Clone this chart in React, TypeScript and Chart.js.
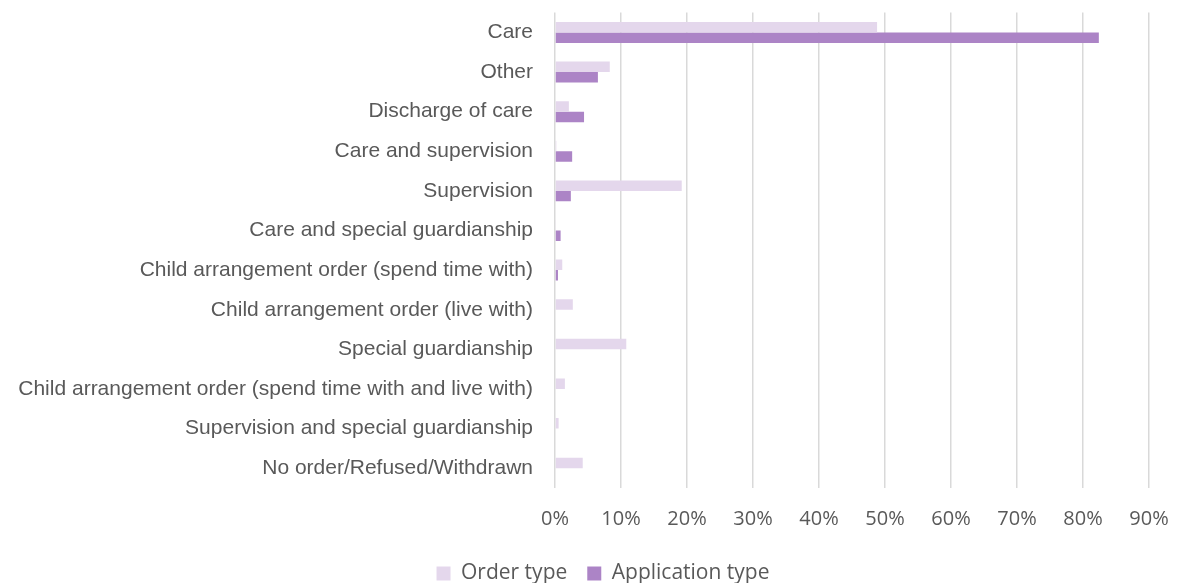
import React, { useEffect, useRef } from "react";
import { Chart, registerables } from "chart.js";

Chart.register(...registerables);

const categories = [
  "Care",
  "Other",
  "Discharge of care",
  "Care and supervision",
  "Supervision",
  "Care and special guardianship",
  "Child arrangement order (spend time with)",
  "Child arrangement order (live with)",
  "Special guardianship",
  "Child arrangement order (spend time with and live with)",
  "Supervision and special guardianship",
  "No order/Refused/Withdrawn",
];

const orderType = [48.8, 8.3, 2.1, 0.2, 19.2, 0.1, 1.1, 2.7, 10.8, 1.5, 0.55, 4.2];
const applicationType = [82.4, 6.5, 4.4, 2.6, 2.4, 0.85, 0.45, 0, 0, 0, 0, 0];

const xTicks = [0, 10, 20, 30, 40, 50, 60, 70, 80, 90];

const CLEAR = "rgba(0,0,0,0)";

const legendShift = {
  id: "legendShift",
  afterLayout(chart: any) {
    if (chart.legend) chart.legend.left = 57;
  },
};

export default function App() {
  const ref = useRef<HTMLCanvasElement>(null);

  useEffect(() => {
    if (!ref.current) return;
    const chart = new Chart(ref.current, {
      type: "bar",
      data: {
        labels: categories,
        datasets: [
          {
            label: "Order type",
            data: orderType,
            backgroundColor: "#E4D7EC",
            borderWidth: 0,
            categoryPercentage: 0.53,
            barPercentage: 1,
          },
          {
            label: "Application type",
            data: applicationType,
            backgroundColor: "#AC84C6",
            borderWidth: 0,
            categoryPercentage: 0.53,
            barPercentage: 1,
          },
        ],
      },
      options: {
        indexAxis: "y",
        animation: false,
        responsive: false,
        maintainAspectRatio: false,
        layout: { padding: { top: 0, right: 28, left: 0, bottom: -11 } },
        plugins: {
          tooltip: { enabled: false },
          legend: {
            position: "bottom",
            labels: {
              font: { family: "'Open Sans', sans-serif", size: 21 },
              color: "#595959",
              boxWidth: 14,
              boxHeight: 14,
              padding: 20,
            },
          },
        },
        scales: {
          x: {
            min: 0,
            max: 90,
            afterBuildTicks: (scale: any) => {
              scale.ticks = xTicks.map((v) => ({ value: v }));
            },
            afterFit: (scale: any) => {
              scale.height = 55;
            },
            ticks: {
              callback: (v: any) => v + "%",
              font: { family: "'Open Sans', sans-serif", size: 20 },
              color: "#595959",
              padding: 0,
              maxRotation: 0,
            },
            grid: {
              color: "#D9D9D9",
              lineWidth: 1.5,
              drawTicks: true,
              tickLength: 19,
              tickColor: CLEAR,
            },
            border: { display: false },
          },
          y: {
            afterFit: (scale: any) => {
              scale.width = 555;
            },
            ticks: {
              font: { family: "'Liberation Sans', Arial, sans-serif", size: 21 },
              color: "#595959",
              padding: 0,
              autoSkip: false,
            },
            grid: {
              display: true,
              color: CLEAR,
              drawTicks: true,
              tickLength: 22,
              tickColor: CLEAR,
            },
            border: { display: false },
          },
        },
      },
      plugins: [legendShift],
    });
    return () => chart.destroy();
  }, []);

  return (
    <div style={{ position: "fixed", left: 0, top: 0, width: 1177, height: 583, background: "#fff" }}>
      <canvas ref={ref} width={1177} height={583} />
    </div>
  );
}
